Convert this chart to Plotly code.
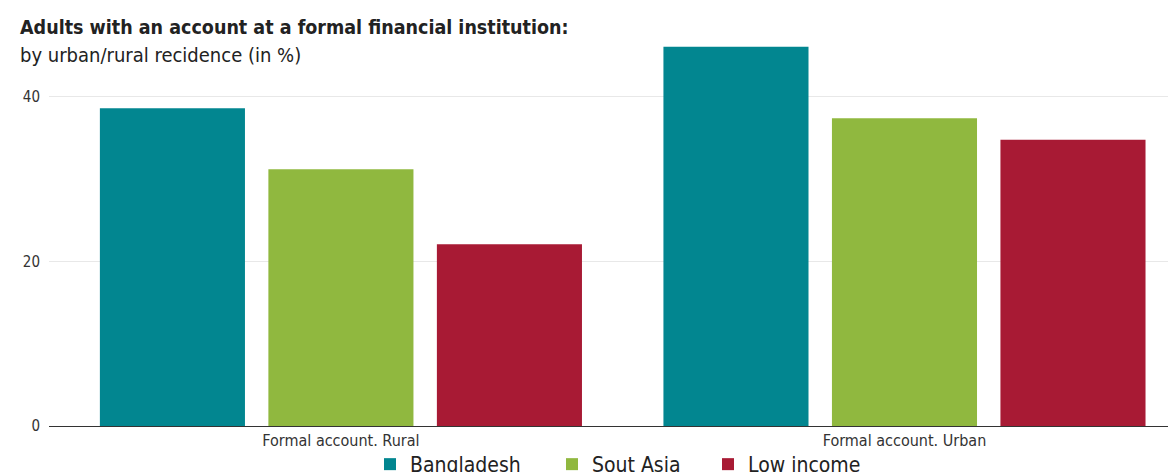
import plotly.graph_objects as go

categories = ["Formal account. Rural", "Formal account. Urban"]
series_names = ["Bangladesh", "Sout Asia", "Low income"]
bangladesh = [38.6, 46.1]
south_asia = [31.2, 37.4]
low_income = [22.1, 34.8]
y_ticks = [0, 20, 40]

colors = ["#028690", "#90b83f", "#a81a34"]
FONT = "DejaVu Sans Condensed, DejaVu Sans, sans-serif"

W, H = 1176, 472
ML, MR, MT, MB = 41, 0, 37, 54
PW = W - ML - MR
PH = H - MT - MB

legend_ids = ["legend", "legend2", "legend3"]
legend_left_px = [362, 544, 700]

fig = go.Figure()
for name, vals, col, lid in zip(series_names, [bangladesh, south_asia, low_income], colors, legend_ids):
    fig.add_trace(go.Bar(x=categories, y=vals, name=name, legend=lid,
                         marker=dict(color=col, line=dict(width=0))))

def px_to_paper_x(px):
    return (px - ML) / PW

def px_to_paper_y(py):
    return (H - MB - py) / PH

legend_common = dict(orientation="h", xref="container", yref="container",
                     xanchor="left", yanchor="top", itemwidth=30,
                     font=dict(size=21, color="#222222", family=FONT),
                     bgcolor="rgba(0,0,0,0)")
legends = {}
for lid, lx in zip(legend_ids, legend_left_px):
    legends[lid] = dict(legend_common, x=lx / W, y=1 - 436 / H)

fig.update_layout(
    width=W, height=H,
    margin=dict(l=ML, r=MR, t=MT, b=MB),
    paper_bgcolor="white", plot_bgcolor="white",
    barmode="group", bargap=0.103, bargroupgap=0.139,
    font=dict(family=FONT, color="#333333", size=15),
    showlegend=True,
    xaxis=dict(type="category", range=[-0.518, 1.496], showline=True, linecolor="#333333",
               linewidth=1, showgrid=False, ticks="", automargin=False,
               tickfont=dict(size=16, color="#333333")),
    yaxis=dict(range=[0, 46.3], tickvals=y_ticks, showgrid=True, gridcolor="#e8e8e8",
               gridwidth=1, zeroline=False, ticks="", ticklabelstandoff=8, automargin=False,
               tickfont=dict(size=15, color="#333333")),
    annotations=[
        dict(text="<b>Adults with an account at a formal financial institution:</b>",
             xref="paper", yref="paper", x=px_to_paper_x(10), y=px_to_paper_y(33),
             xanchor="left", yanchor="bottom", showarrow=False,
             font=dict(size=19.5, color="#222222", family=FONT)),
        dict(text="by urban/rural recidence (in %)",
             xref="paper", yref="paper", x=px_to_paper_x(10), y=px_to_paper_y(61),
             xanchor="left", yanchor="bottom", showarrow=False,
             font=dict(size=20, color="#222222", family=FONT)),
    ],
    **legends,
)

fig.write_html("out.html")
